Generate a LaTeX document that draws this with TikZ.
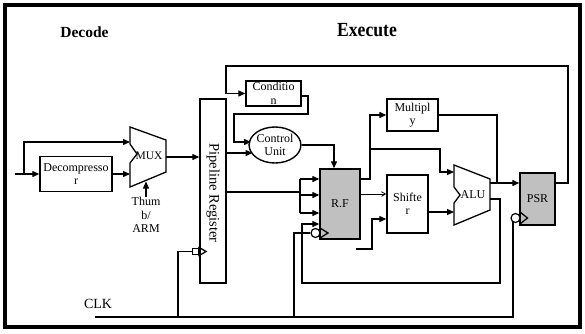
\documentclass[tikz,border=0pt]{standalone}
\usepackage{fontspec}
\setmainfont{Liberation Serif}
\usetikzlibrary{arrows.meta,shapes.geometric,calc}
\definecolor{regfill}{RGB}{192,192,192}
\begin{document}
\begin{tikzpicture}[x=1pt,y=-1pt,
  wire/.style={line width=1.3pt},
  arr/.style={wire,-{Triangle[length=7pt,width=6pt]}},
  thinarr/.style={line width=0.8pt,-{Straight Barb[length=4pt,width=4.5pt]}},
  lbl/.style={inner sep=0pt,align=center,font=\fontsize{12}{13.5}\selectfont},
  blk/.style={lbl,draw,line width=1.4pt,rectangle},
  reg/.style={blk,fill=regfill},
  bubble/.style={draw,circle,line width=1.2pt,minimum size=9pt,inner sep=0pt},
  title/.style={inner sep=0pt,font=\bfseries\fontsize{15.5}{17}\selectfont},
]
\useasboundingbox (0,0) rectangle (585,333);
\draw[line width=3.5pt] (5,5) rectangle (580,327);

% titles
\node[title] (dectitle) at (84.5,32) {Decode};
\node[title,font=\bfseries\fontsize{20}{22}\selectfont,xscale=0.88] (exetitle) at (367,30) {Execute};

% blocks
\node[blk,minimum width=72pt,minimum height=35pt] (dec) at (76,174) {Decompresso\\r};
\node[blk,minimum width=26pt,minimum height=184pt] (pipe) at (213,191) {};
\node[inner sep=0pt,rotate=-90,font=\fontsize{14.5}{16}\selectfont] (pipetxt) at (213,193) {Pipeline Register};
\node[blk,minimum width=55pt,minimum height=25pt] (cond) at (273.5,93.5) {Conditio\\n};
\node[lbl,draw,ellipse,line width=1.4pt,minimum width=49pt,minimum height=36pt] (cu) at (275,145) {Control\\Unit};
\node[reg,minimum width=40pt,minimum height=70pt] (rf) at (340,204) {R.F};
\node[blk,minimum width=51pt,minimum height=32pt] (mul) at (412.5,115) {Multipl\\y};
\node[blk,minimum width=41pt,minimum height=58pt] (shf) at (407.5,204) {Shifte\\r};
\node[reg,minimum width=35pt,minimum height=52pt] (psr) at (537.5,199) {PSR};

% MUX
\draw[wire,fill=white] (130,127) -- (166,140) -- (166,172) -- (130,187) -- (130,163) -- (137,154) -- (130,144) -- cycle;
\node[lbl,font=\fontsize{11.5}{13}\selectfont] (mux) at (149,156) {MUX};
\coordinate (muxin1) at (130,142);
\coordinate (muxin2) at (130,174);
\coordinate (muxout) at (166,157);
\coordinate (muxbot) at (146,181.5);

% ALU
\draw[wire,fill=white] (454,165) -- (490,179) -- (490,210) -- (454,225) -- (454,203) -- (460,195) -- (454,187) -- cycle;
\node[lbl] (alu) at (473,195) {ALU};
\coordinate (aluin1) at (454,172);
\coordinate (aluin2) at (454,212);
\coordinate (aluout1) at (490,183);
\coordinate (aluout2) at (490,199);

% Thumb/ARM
\node[lbl] (thumb) at (146,215) {Thum\\b/\\ARM};
\draw[arr] (thumb.north) -- (muxbot);

% CLK
\node[inner sep=0pt,font=\fontsize{14}{16}\selectfont] (clk) at (98,304) {CLK};
\coordinate (clkS) at (95,317);

% clock symbols
\node[draw,line width=1.2pt,minimum width=5.5pt,minimum height=5.5pt,inner sep=0pt] (pbox) at (195.5,251.5) {};
\draw[wire,line join=miter] (198.5,247) -- (206,251.5) -- (198.5,256);
\node[bubble] (rfb) at (315.5,233) {};
\draw[wire] (320,228) -- (328,233) -- (320,238);
\node[bubble] (psrb) at (515.5,218) {};
\draw[wire] (520,212) -- (527.5,218) -- (520,224);

% decode side connectors
\coordinate (inp) at (15,174);
\coordinate (br) at (24,174);
\draw[arr] (inp) -- (dec.west);
\draw[arr] (br) |- (muxin1);
\draw[arr] (dec.east) -- (muxin2);
\draw[arr] (muxout) -- (pipe.west |- muxout);

% pipeline outputs
\coordinate (cuin1) at (251,142);
\coordinate (cuin2) at (252.5,153);
\draw[arr] (pipe.east |- cuin2) -- (cuin2);
\coordinate (fork) at (300,192);
\draw[wire] (pipe.east |- fork) -- (fork);
\draw[wire] (300,179) -- (300,213);
\draw[arr] (300,179) -- (rf.west |- 0,179);
\draw[arr] (300,195) -- (rf.west |- 0,195);
\draw[arr] (300,213) -- (rf.west |- 0,213);

% top feedback loop PSR -> Condition
\draw[arr] (psr.east |- 0,183) -- (568,183) -- (568,66) -- (226,66) -- (226,93.5) -- (cond.west);
% Condition -> Control unit
\draw[arr] (cond.east |- 0,96) -- (308,96) -- (308,114) -- (234,114) -- (234,142) -- (cuin1);
% Control unit -> RF
\draw[arr] (cu.east) -| (rf.north -| 334,0);

% RF outputs
\draw[arr] (rf.east |- 0,179) -- (370,179) |- (mul.west);
\draw[arr] (370,149) -| (440,172) -- (aluin1);
\draw[thinarr] (rf.east |- 0,194) -- (shf.west |- 0,194);
\coordinate (sfree) at (356,249);
\draw[arr] (sfree) -- (372,249) -- (372,219) -- (shf.west |- 0,219);
\draw[arr] (shf.east |- aluin2) -- (aluin2);

% ALU / Multiply outputs
\draw[arr] (aluout1) -- (psr.west |- aluout1);
\draw[wire] (mul.east) -| (497,183);
\draw[arr] (aluout2) -- (500,199) -- (500,283) -- (302,283) -- (302,224) -- (rf.west |- 0,224);

% clock wiring
\draw[wire] (clkS) -- (psrb.-120 |- clkS) -- (psrb.-120);
\draw[wire] (178,317) |- (pbox.west);
\draw[wire] (294,317) |- (rfb.west);
\end{tikzpicture}
\end{document}
